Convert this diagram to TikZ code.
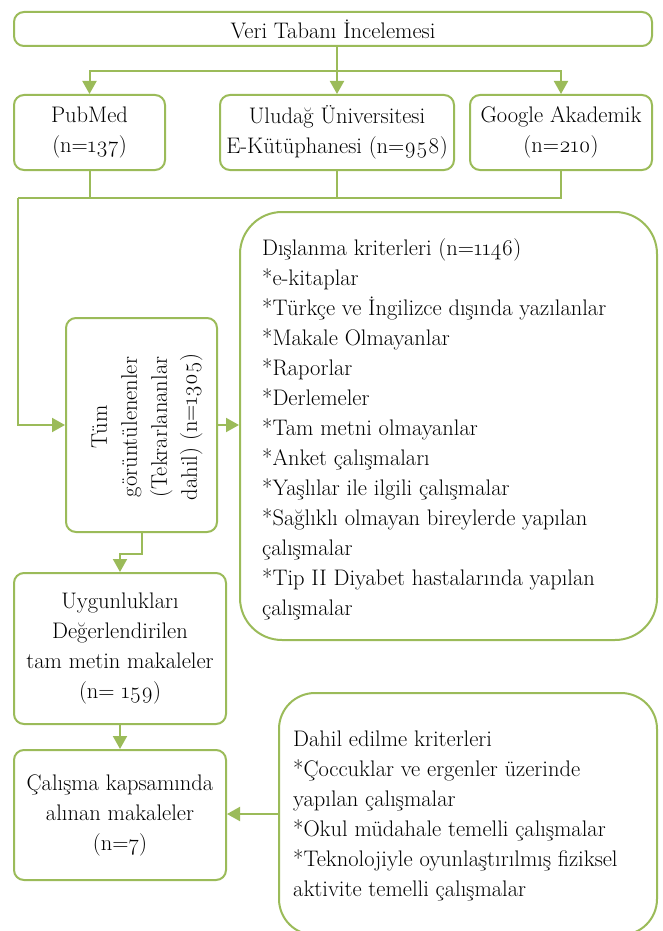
\documentclass[tikz,border=0pt]{standalone}
\usepackage{fontspec}
\setmainfont{Latin Modern Roman}[Numbers=OldStyle]
\usetikzlibrary{arrows.meta}
\definecolor{olive}{HTML}{9BBB59}
\tikzset{
  box/.style={draw=olive, line width=2pt, rounded corners=10pt, inner sep=0pt, align=center, fill=white},
  bigbox/.style={box, rounded corners=42pt},
  conn/.style={draw=olive, line width=2pt},
  arr/.style={conn, -{Triangle[width=14pt,length=13pt]}},
  txt/.style={inner sep=0pt, align=left, anchor=north west},
}
\begin{document}
\begin{tikzpicture}[x=1pt,y=-1pt, font=\fontsize{22.5}{30}\selectfont]
\useasboundingbox (0,0) rectangle (662,931);
\clip (0,0) rectangle (662,931);
% boxes
\node[box, minimum width=638pt, minimum height=34pt] (top) at (333,29) {Veri Tabanı İncelemesi};
\node[box, minimum width=151pt, minimum height=75pt] (pub) at (89.5,132.5) {PubMed\\(n=137)};
\node[box, minimum width=234pt, minimum height=75pt] (uni) at (337,132.5) {Uludağ Üniversitesi\\E-Kütüphanesi (n=958)};
\node[box, minimum width=182pt, minimum height=75pt] (goo) at (561,132.5) {Google Akademik\\(n=210)};
\node[box, minimum width=151pt, minimum height=214pt] (tum) at (141.5,425) {};
\node[rotate=90, align=center, inner sep=0pt] (tumtxt) at (147,427) {Tüm\\görüntülenenler\\(Tekrarlananlar\\dahil) (n=1305)};
\node[bigbox, minimum width=417pt, minimum height=428pt] (exc) at (448.5,426) {};
\node[txt] (exctxt) at (262,238) {Dışlanma kriterleri (n=1146)\\*e-kitaplar\\*Türkçe ve İngilizce dışında yazılanlar\\*Makale Olmayanlar\\*Raporlar\\*Derlemeler\\*Tam metni olmayanlar\\*Anket çalışmaları\\*Yaşlılar ile ilgili çalışmalar\\*Sağlıklı olmayan bireylerde yapılan\\çalışmalar\\*Tip II Diyabet hastalarında yapılan\\çalışmalar};
\node[box, minimum width=212pt, minimum height=151pt] (uyg) at (120,648.5) {Uygunlukları\\Değerlendirilen\\tam metin makaleler\\(n= 159)};
\node[box, minimum width=212pt, minimum height=130pt] (cal) at (120,815) {Çalışma kapsamında\\alınan makaleler\\(n=7)};
\node[bigbox, rounded corners=36pt, minimum width=378pt, minimum height=242pt] (dah) at (468,814) {};
\node[txt] (dahtxt) at (293,731) {Dahil edilme kriterleri\\*Çoccuklar ve ergenler üzerinde\\yapılan çalışmalar\\*Okul müdahale temelli çalışmalar\\*Teknolojiyle oyunlaştırılmış fiziksel\\aktivite temelli çalışmalar};
% connectors
\coordinate (j1) at (337,71);
\coordinate (j2) at (18,198);
\draw[conn] (top.south -| j1) -- (j1);
\draw[arr] (j1) -| (pub.north);
\draw[arr] (j1) -- (uni.north);
\draw[arr] (j1) -| (goo.north);
\draw[conn] (pub.south) -- (pub.south |- j2);
\draw[conn] (uni.south) -- (uni.south |- j2);
\draw[conn] (goo.south) |- (j2);
\draw[arr] (j2) |- (tum.west);
\draw[arr] (tum.east) -- (tum.east -| exc.west);
\draw[arr] (tum.south) -- ++(0,21) -| (uyg.north);
\draw[arr] (uyg.south) -- (cal.north);
\draw[arr] (dah.west) -- (dah.west -| cal.east);
\end{tikzpicture}
\end{document}
